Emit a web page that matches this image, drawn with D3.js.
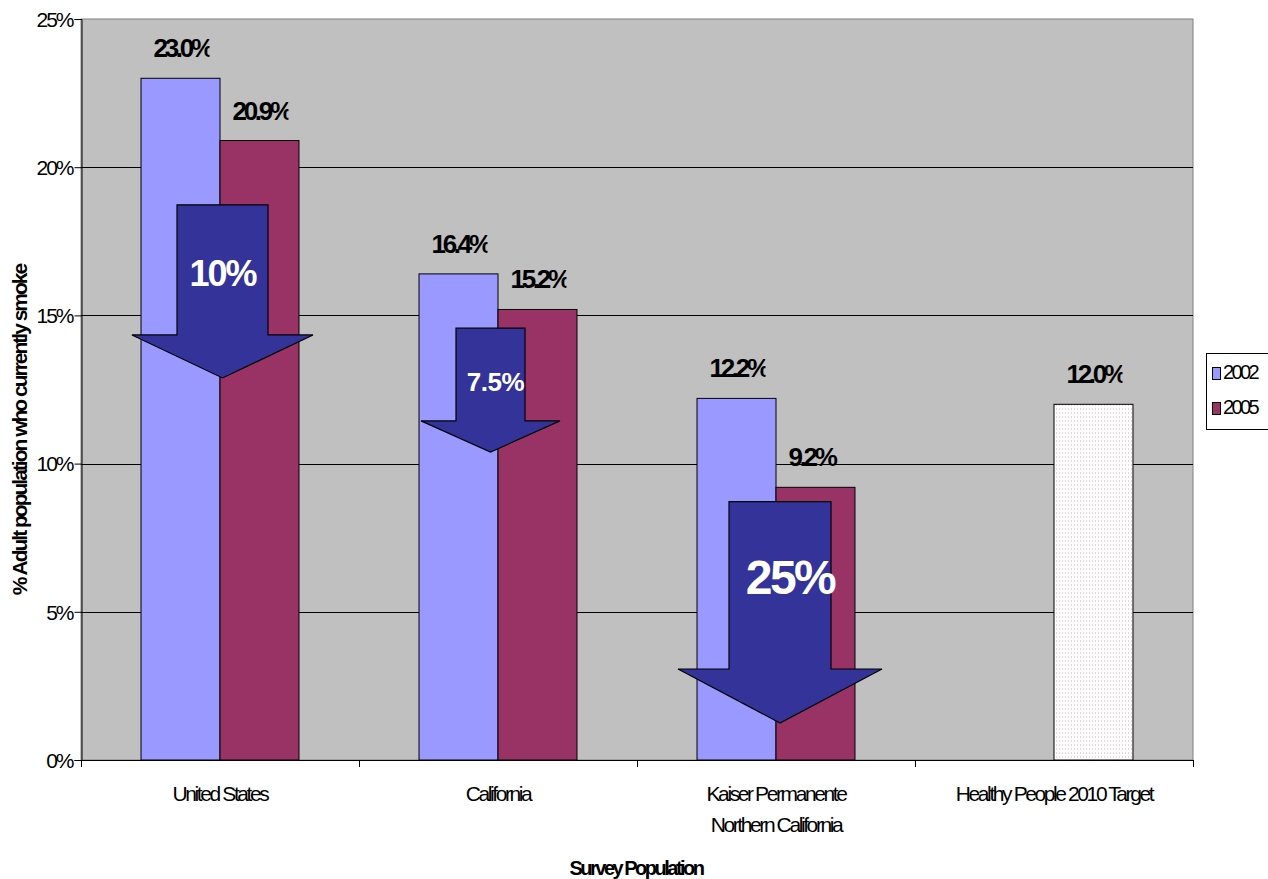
<!DOCTYPE html>
<html>
<head>
<meta charset="utf-8">
<script src="https://cdn.jsdelivr.net/npm/d3@7"></script>
<style>
  html, body { margin: 0; padding: 0; background: #ffffff; }
  svg { display: block; font-family: "Liberation Sans", Arial, sans-serif; }
</style>
</head>
<body>
<svg id="chart" width="1268" height="879"></svg>
<script>
// ---- data ----
const categories = ["United States", "California", "Kaiser Permanente\nNorthern California", "Healthy People 2010 Target"];
const seriesNames = ["2002", "2005"];
const values2002 = [23.0, 16.4, 12.2, null];
const values2005 = [20.9, 15.2, 9.2, 12.0];
const yTicks = [0, 5, 10, 15, 20, 25];
// decrease arrows: category index, label, top / neck / tip values (in %)
const arrowCategory = [0, 1, 2];
const arrowLabels = ["10%", "7.5%", "25%"];
const arrowTop = [18.73, 14.57, 8.72];
const arrowNeck = [14.34, 11.44, 3.07];
const arrowTip = [12.89, 10.39, 1.25];

// ---- layout / style ----
const W = 1268, H = 879;
const plot = { left: 81, right: 1193, top: 19, bottom: 760 };
const colors = { "2002": "#9999ff", "2005": "#993366" };
const arrowStyle = [
  { dx: 2.5, shaft: 45.5, head: 90.5, font: 36, ls: -2, ly: 286, ldx: 0 },
  { dx: -7.5, shaft: 34.5, head: 69.5, font: 26, ls: -0.5, ly: 391, ldx: 5 },
  { dx: 4, shaft: 51, head: 102, font: 48, ls: -2.5, ly: 594, ldx: 10 }
];

const svg = d3.select("#chart");
const defs = svg.append("defs");

const pat = defs.append("pattern").attr("id", "dots").attr("patternUnits", "userSpaceOnUse")
  .attr("width", 3).attr("height", 4);
pat.append("rect").attr("width", 3).attr("height", 4).attr("fill", "#ffffff");
pat.append("rect").attr("x", 0).attr("y", 0).attr("width", 1).attr("height", 2).attr("fill", "#f0d4dc");

const y = d3.scaleLinear().domain([0, 25]).range([plot.bottom, plot.top]);
const x0 = d3.scaleBand().domain(d3.range(categories.length)).range([plot.left, plot.right]).padding(0);
const bw = x0.bandwidth();
const x1 = d3.scaleBand().domain(seriesNames).range([0, bw]).paddingInner(0).paddingOuter(0.76);

// plot background
svg.append("rect").attr("x", plot.left).attr("y", plot.top)
  .attr("width", plot.right - plot.left).attr("height", plot.bottom - plot.top)
  .attr("fill", "#c0c0c0").attr("stroke", "#808080").attr("stroke-width", 1);

// gridlines
svg.append("g").selectAll("line").data(yTicks.filter(t => t > 0 && t < 25)).join("line")
  .attr("x1", plot.left).attr("x2", plot.right)
  .attr("y1", d => Math.round(y(d)) + 0.5).attr("y2", d => Math.round(y(d)) + 0.5)
  .attr("stroke", "#000000").attr("stroke-width", 1);

// y axis
const yAxis = d3.axisLeft(y).tickValues(yTicks).tickFormat(d => d + "%").tickSize(7).tickPadding(2);
const gy = svg.append("g").attr("transform", `translate(${plot.left + 0.5},0)`).call(yAxis);
gy.select(".domain").attr("stroke", "#000");
gy.selectAll(".tick line").attr("stroke", "#000");
gy.selectAll(".tick text").attr("font-size", 21).attr("letter-spacing", "-2px")
  .attr("fill", "#000").attr("font-family", "Liberation Sans, Arial, sans-serif").attr("dy", "0.35em");

// x axis line and ticks at category boundaries
svg.append("line").attr("x1", plot.left).attr("x2", plot.right)
  .attr("y1", plot.bottom + 0.5).attr("y2", plot.bottom + 0.5).attr("stroke", "#000");
const bounds = d3.range(categories.length + 1).map(i => plot.left + i * bw);
svg.append("g").selectAll("line").data(bounds).join("line")
  .attr("x1", d => Math.round(d) + 0.5).attr("x2", d => Math.round(d) + 0.5)
  .attr("y1", plot.bottom).attr("y2", plot.bottom + 7).attr("stroke", "#000");

// category labels
const catG = svg.append("g");
categories.forEach((c, i) => {
  const lines = c.split("\n");
  const t = catG.append("text").attr("x", x0(i) + bw / 2).attr("y", 801)
    .attr("text-anchor", "middle").attr("font-size", 21).attr("letter-spacing", "-2.4px").attr("fill", "#000");
  lines.forEach((l, k) => t.append("tspan").attr("x", x0(i) + bw / 2).attr("dy", k === 0 ? 0 : 31).text(l));
});

// bars
const barData = [];
categories.forEach((c, i) => {
  [values2002[i], values2005[i]].forEach((v, k) => {
    if (v !== null) barData.push({ i, s: seriesNames[k], v, target: i === 3 });
  });
});
svg.append("g").selectAll("rect").data(barData).join("rect")
  .attr("x", d => x0(d.i) + x1(d.s))
  .attr("y", d => y(d.v))
  .attr("width", x1.bandwidth())
  .attr("height", d => y(0) - y(d.v))
  .attr("fill", d => d.target ? "url(#dots)" : colors[d.s])
  .attr("stroke", "#000").attr("stroke-width", 1);

// data labels (clipped on the right as in the original)
const lblG = svg.append("g");
barData.forEach((d, j) => {
  const cx = x0(d.i) + x1(d.s) + x1.bandwidth() / 2;
  const by = y(d.v) - 21;
  defs.append("clipPath").attr("id", "lc" + j).append("rect")
    .attr("x", cx - 30).attr("y", by - 26).attr("width", 59).attr("height", 33);
  lblG.append("text").attr("clip-path", `url(#lc${j})`)
    .attr("x", cx - 27).attr("y", by)
    .attr("font-size", 26).attr("font-weight", "bold").attr("letter-spacing", "-3.3px")
    .attr("fill", "#000").text(d.v.toFixed(1) + "%");
});

// arrows
const arrG = svg.append("g");
arrowCategory.forEach((ci, k) => {
  const st = arrowStyle[k];
  const cx = x0(ci) + bw / 2 + st.dx;
  const yt = y(arrowTop[k]), yn = y(arrowNeck[k]), yp = y(arrowTip[k]);
  const pts = [
    [cx - st.shaft, yt], [cx + st.shaft, yt], [cx + st.shaft, yn], [cx + st.head, yn],
    [cx, yp], [cx - st.head, yn], [cx - st.shaft, yn]
  ];
  arrG.append("path").attr("d", d3.line()(pts) + "Z")
    .attr("fill", "#333399").attr("stroke", "#000").attr("stroke-width", 1.2).attr("stroke-linejoin", "miter");
  arrG.append("text").attr("x", cx + st.ldx).attr("y", st.ly).attr("text-anchor", "middle")
    .attr("font-size", st.font).attr("font-weight", "bold").attr("letter-spacing", st.ls + "px")
    .attr("fill", "#ffffff").text(arrowLabels[k]);
});

// axis titles
svg.append("text").attr("transform", "translate(27,430) rotate(-90)").attr("text-anchor", "middle")
  .attr("font-size", 21).attr("font-weight", "bold").attr("letter-spacing", "-2px").attr("fill", "#000")
  .text("% Adult population who currently smoke");
svg.append("text").attr("x", 636).attr("y", 875).attr("text-anchor", "middle")
  .attr("font-size", 20).attr("font-weight", "bold").attr("letter-spacing", "-2.5px").attr("fill", "#000")
  .text("Survey Population");

// legend
const lg = svg.append("g");
lg.append("rect").attr("x", 1206.5).attr("y", 353.5).attr("width", 70).attr("height", 76)
  .attr("fill", "#ffffff").attr("stroke", "#000").attr("stroke-width", 1);
seriesNames.forEach((s, k) => {
  const yy = 367 + k * 35;
  lg.append("rect").attr("x", 1212.5).attr("y", yy + 0.5).attr("width", 8).attr("height", 12)
    .attr("fill", colors[s]).attr("stroke", "#000").attr("stroke-width", 1);
  lg.append("text").attr("x", 1223).attr("y", yy + 12).attr("font-size", 20).attr("letter-spacing", "-2.6px")
    .attr("fill", "#000").text(s);
});
</script>
</body>
</html>
